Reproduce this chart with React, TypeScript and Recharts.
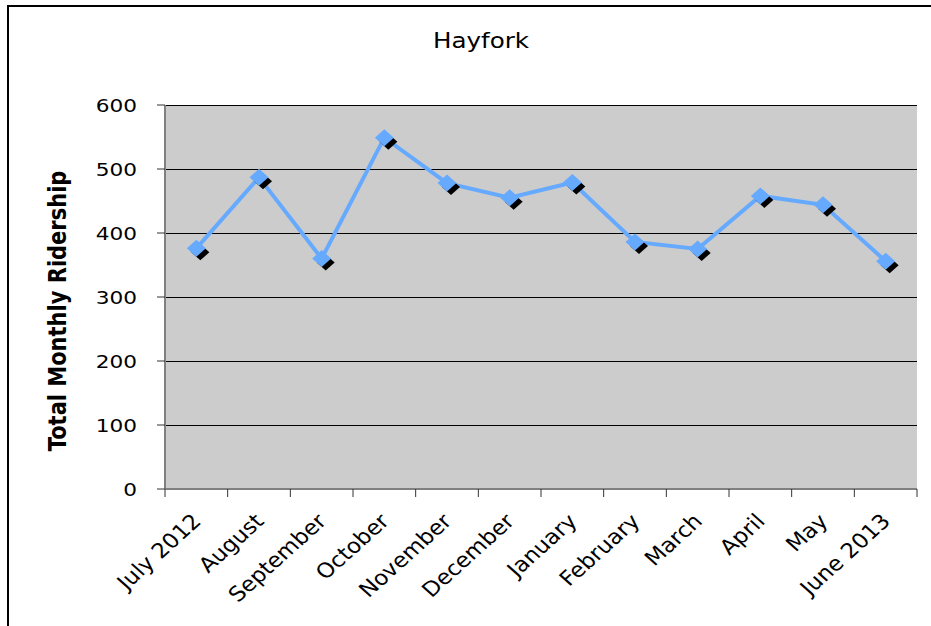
import React from "react";
import { LineChart, Line, XAxis, YAxis, CartesianGrid } from "recharts";

const months = ["July 2012", "August", "September", "October", "November", "December", "January", "February", "March", "April", "May", "June 2013"];
const ridership = [376, 487, 360, 549, 478, 455, 479, 386, 375, 458, 444, 356];
const yTicks = [0, 100, 200, 300, 400, 500, 600];

const data = months.map((m, i) => ({ month: m, value: ridership[i] }));

const W = 931;
const H = 626;
const MARGIN = { top: 105, right: 14, bottom: 0, left: 65 };
const Y_AXIS_W = 100;
const X_AXIS_H = 137;
const FONT = "'DejaVu Sans', Verdana, sans-serif";
const GREY = "#808080";
const BLUE = "#66aaff";
const SX = 1.17;
const SX_LABEL = 1.11;

const plotW = W - MARGIN.left - MARGIN.right - Y_AXIS_W;
const HALF_BAND = plotW / months.length / 2;

const diamond = (x: number, y: number, rx: number, ry: number) =>
  `M${x},${y - ry} L${x + rx},${y} L${x},${y + ry} L${x - rx},${y} Z`;

const Marker = (props: any) => {
  const { cx, cy } = props;
  if (cx == null || cy == null) return null;
  return (
    <g>
      <path d={diamond(cx + 4, cy + 4, 9, 8)} fill="#000" />
      <path d={diamond(cx, cy, 9.5, 8.5)} fill={BLUE} />
    </g>
  );
};

const XTick = (props: any) => {
  const { x, y, payload, index } = props;
  const last = index === months.length - 1;
  return (
    <g>
      <line x1={x - HALF_BAND} x2={x - HALF_BAND} y1={y} y2={y + 8} stroke="#333" strokeWidth={1} />
      {last && <line x1={x + HALF_BAND} x2={x + HALF_BAND} y1={y} y2={y + 8} stroke="#333" strokeWidth={1} />}
      <text
        transform={`translate(${x + 6},${y + 33.5}) scale(${SX_LABEL},1) rotate(-45)`}
        textAnchor="end"
        fontFamily={FONT}
        fontSize={20.7}
        fill="#000"
      >
        {payload.value}
      </text>
    </g>
  );
};

const YTick = (props: any) => {
  const { x, y, payload } = props;
  return (
    <g>
      <line x1={x + 20} x2={x + 28} y1={y} y2={y} stroke="#333" strokeWidth={1} />
      <text
        transform={`translate(${x},${y + 6.7}) scale(${SX},1)`}
        textAnchor="end"
        fontFamily={FONT}
        fontSize={18.5}
        fill="#000"
      >
        {payload.value}
      </text>
    </g>
  );
};

const GridLine = (props: any) => {
  const { x1, x2, y1, y2 } = props;
  return <line x1={x1} x2={x2} y1={y1} y2={y2} stroke="#000" strokeWidth={1} shapeRendering="crispEdges" />;
};

const YLabel = () => (
  <text
    transform={`translate(66,311) scale(${SX},1) rotate(-90)`}
    textAnchor="middle"
    fontFamily={FONT}
    fontSize={21}
    fontWeight="bold"
    fill="#000"
  >
    Total Monthly Ridership
  </text>
);

export default function App() {
  return (
    <div style={{ position: "absolute", left: 0, top: 0, width: W, height: H, overflow: "hidden", background: "#fff" }}>
      <div
        style={{
          position: "absolute",
          left: 7,
          top: 5,
          width: 2000,
          height: 2000,
          borderLeft: "2px solid #000",
          borderTop: "2px solid #000",
        }}
      />
      <div
        style={{
          position: "absolute",
          left: 0,
          width: 962,
          top: 29,
          textAlign: "center",
          fontFamily: FONT,
          fontSize: 21,
          color: "#000",
          transform: `scaleX(${SX})`,
          transformOrigin: "center",
        }}
      >
        Hayfork
      </div>
      <div style={{ position: "absolute", left: 0, top: 0 }}>
        <LineChart width={W} height={H} data={data} margin={MARGIN}>
          <CartesianGrid vertical={false} horizontal={(p: any) => <GridLine key={p.key} {...p} />} fill="#cccccc" />
          <XAxis
            dataKey="month"
            height={X_AXIS_H}
            interval={0}
            padding={{ left: HALF_BAND, right: HALF_BAND }}
            tickLine={false}
            tickSize={0}
            tickMargin={0}
            axisLine={{ stroke: GREY, strokeWidth: 2 }}
            tick={<XTick />}
          />
          <XAxis
            xAxisId="top"
            dataKey="month"
            orientation="top"
            height={0}
            tick={false}
            tickLine={false}
            axisLine={{ stroke: GREY, strokeWidth: 2 }}
          />
          <YAxis
            width={Y_AXIS_W}
            domain={[0, 600]}
            ticks={yTicks}
            interval={0}
            tickSize={8}
            tickMargin={20}
            tickLine={false}
            axisLine={{ stroke: GREY, strokeWidth: 2 }}
            tick={<YTick />}
            label={<YLabel />}
          />
          <YAxis
            yAxisId="right"
            orientation="right"
            width={0}
            domain={[0, 600]}
            tick={false}
            tickLine={false}
            axisLine={{ stroke: GREY, strokeWidth: 2 }}
          />
          <Line
            type="linear"
            dataKey="value"
            stroke={BLUE}
            strokeWidth={4}
            dot={<Marker />}
            activeDot={false}
            isAnimationActive={false}
          />
        </LineChart>
      </div>
    </div>
  );
}
